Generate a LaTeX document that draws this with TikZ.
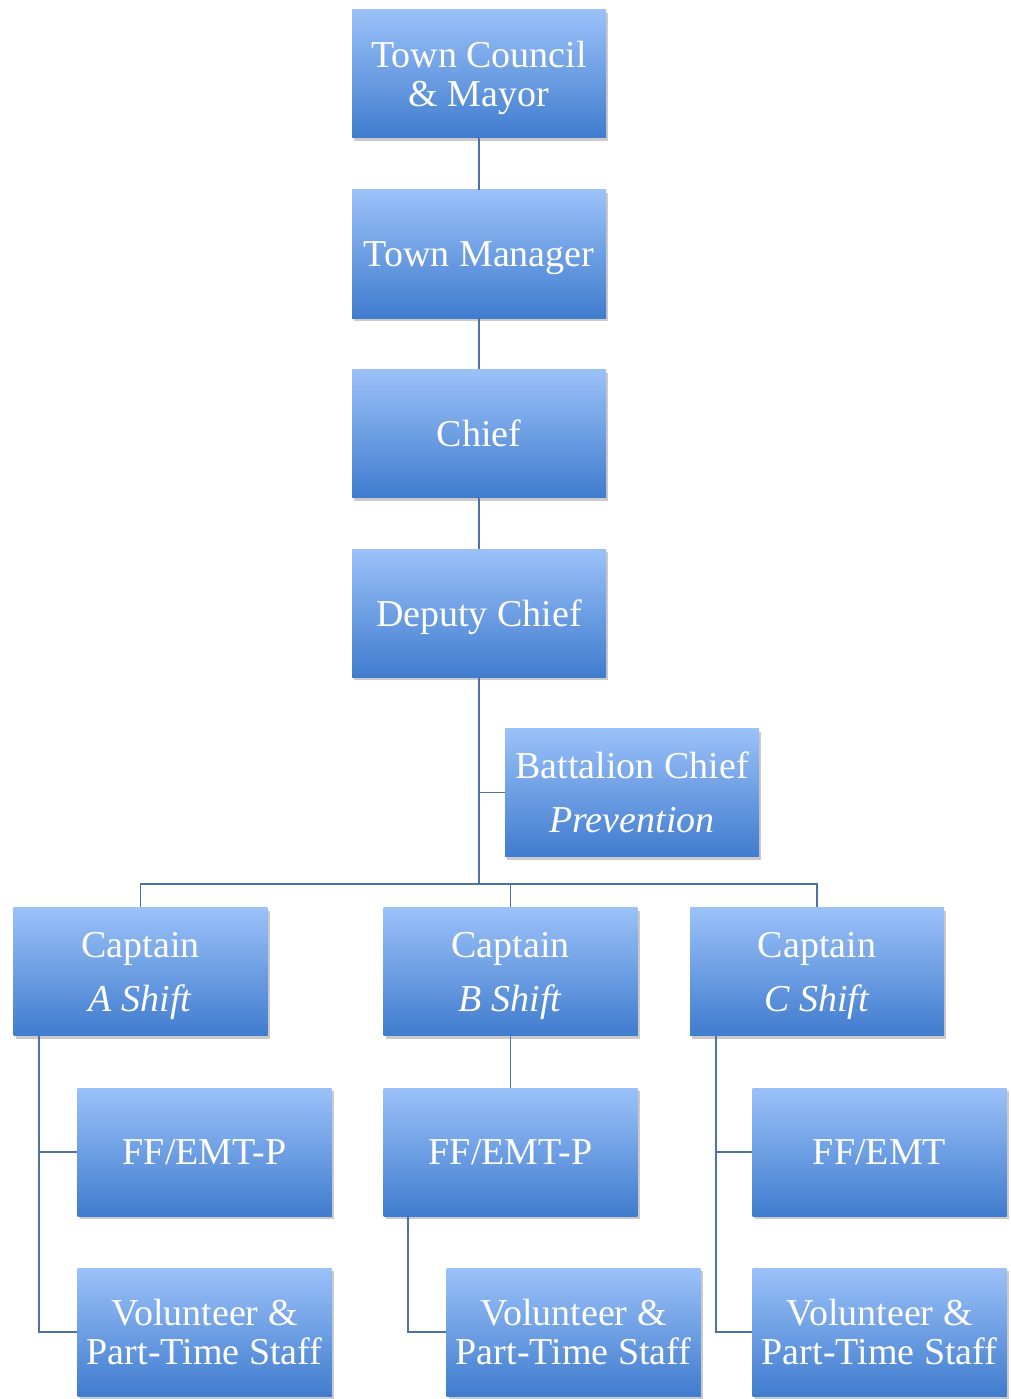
\documentclass[tikz,border=0pt]{standalone}
\usepackage{fontspec}
\setmainfont{Liberation Serif}
\usetikzlibrary{shadows}
\definecolor{boxtop}{RGB}{155,193,249}
\definecolor{boxbot}{RGB}{64,124,206}
\definecolor{linec}{RGB}{79,113,170}
\newcommand{\nodesc}[1]{\raisebox{0pt}[\height][0pt]{#1}}
\tikzset{
  orgbox/.style={rectangle, top color=boxtop, bottom color=boxbot,
    minimum width=254pt, minimum height=128pt, inner sep=0pt, align=center,
    text=white, font=\fontsize{38}{39}\selectfont,
    drop shadow={shadow xshift=2pt, shadow yshift=-3pt, opacity=0.35, fill=black!60}},
  conn/.style={draw=linec, line width=1.8pt}
}
\begin{document}
\begin{tikzpicture}[x=1pt,y=-1pt]
\useasboundingbox (0,0) rectangle (1010,1399);
\node[orgbox] (tc) at (479,74) {Town Council\\\nodesc{\& Mayor}};
\node[orgbox] (tm) at (479,254) {\nodesc{Town Manager}};
\node[orgbox] (ch) at (479,433.5) {Chief};
\node[orgbox] (dc) at (479,613) {\nodesc{Deputy Chief}};
\node[orgbox] (bc) at (632,792.5) {Battalion Chief\\[15pt]\textit{Prevention}};
\node[orgbox] (ca) at (140.5,971.5) {Captain\\[15pt]\nodesc{\textit{A Shift}}};
\node[orgbox] (cb) at (510.5,971.5) {Captain\\[15pt]\nodesc{\textit{B Shift}}};
\node[orgbox] (cc) at (817,971.5) {Captain\\[15pt]\nodesc{\textit{C Shift}}};
\node[orgbox] (fa) at (204.5,1152) {FF/EMT-P};
\node[orgbox] (fb) at (510.5,1152) {FF/EMT-P};
\node[orgbox] (fc) at (879.5,1152) {FF/EMT};
\node[orgbox] (va) at (204.5,1332) {Volunteer \&\\Part-Time Staff};
\node[orgbox] (vb) at (573.5,1332) {Volunteer \&\\Part-Time Staff};
\node[orgbox] (vc) at (879.5,1332) {Volunteer \&\\Part-Time Staff};
\coordinate (bus) at (479,884);
\draw[conn] (tc.south) -- (tm.north);
\draw[conn] (tm.south) -- (ch.north);
\draw[conn] (ch.south) -- (dc.north);
\draw[conn] (dc.south) -- (bus);
\draw[conn] (dc.south |- bc.west) -- (bc.west);
\draw[conn] (bus) -| (ca.north);
\draw[conn] (bus) -| (cb.north);
\draw[conn] (bus) -| (cc.north);
\draw[conn] ([xshift=26pt]ca.south west) |- (fa.west);
\draw[conn] ([xshift=26pt]ca.south west) |- (va.west);
\draw[conn] (cb.south) -- (fb.north);
\draw[conn] ([xshift=25pt]fb.south west) |- (vb.west);
\draw[conn] ([xshift=26pt]cc.south west) |- (fc.west);
\draw[conn] ([xshift=26pt]cc.south west) |- (vc.west);
\end{tikzpicture}
\end{document}
